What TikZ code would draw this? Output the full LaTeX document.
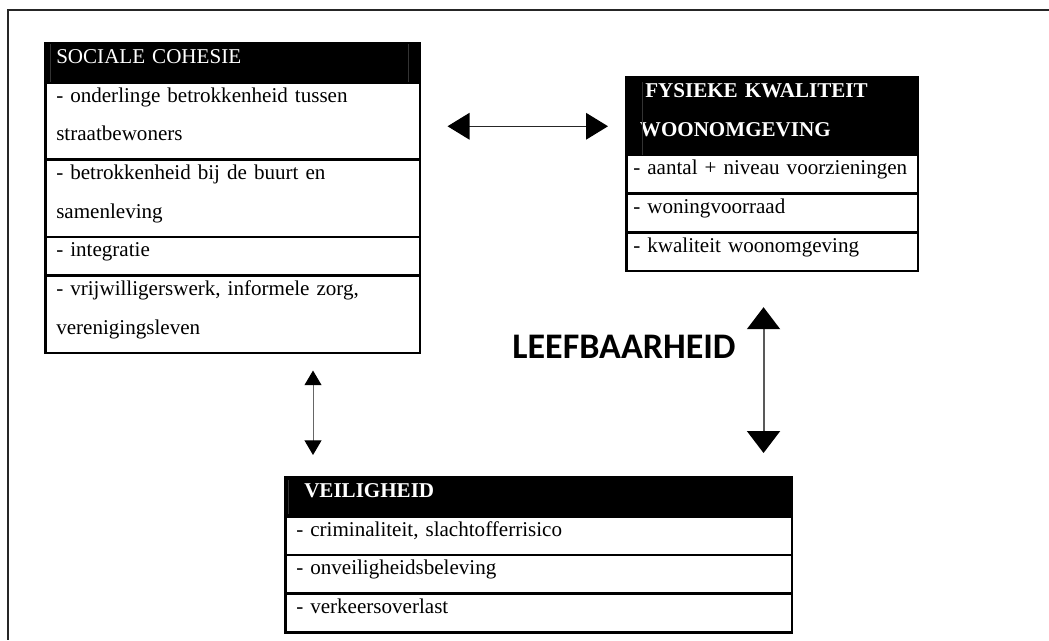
\documentclass[tikz,border=0pt]{standalone}
\usepackage{fontspec}
\setmainfont{Liberation Serif}
\newfontfamily\calibri{Carlito}
\usetikzlibrary{matrix,arrows.meta,calc}

\newcommand{\regel}{\rule[-14pt]{0pt}{29pt}}

\tikzset{
  cel/.style={draw, line width=2pt, inner xsep=8pt, inner ysep=0pt, align=left,
    font=\fontsize{15.8pt}{29pt}\selectfont,
    execute at begin node=\regel, execute at end node=\regel},
  kop/.style={fill=black, text=white},
  tabel/.style={matrix of nodes, inner sep=0pt, row sep=-2pt, anchor=north west,
    nodes={cel, text width=#1}},
  naad/.style={draw=black!80, line width=0.6pt},
  pijl/.style 2 args={<->, >={Triangle[width=#1, length=#2, color=black]}},
  titel/.style={font=\calibri\bfseries\fontsize{27pt}{30pt}\selectfont, inner sep=0pt}
}

\begin{document}
\begin{tikzpicture}[x=0.75pt, y=-0.75pt]
  \useasboundingbox (0,0) rectangle (1049,640);
  \draw[line width=1.5pt, black!85] (1049,10) -- (8,10) -- (8,640);

  \matrix (soc) [tabel=264.75pt] at (44,42) {
    |[kop]| SOCIALE COHESIE \\
    - onderlinge betrokkenheid tussen\newline straatbewoners \\
    - betrokkenheid bij de buurt en\newline samenleving \\
    - integratie \\
    - vrijwilligerswerk, informele zorg,\newline verenigingsleven \\
  };

  \matrix (fys) [tabel=208.5pt, nodes={inner xsep=5pt}] at (625,76) {
    |[kop]| \textbf{\hspace*{9pt}FYSIEKE KWALITEIT\newline\hspace*{5pt}WOONOMGEVING} \\
    - aantal + niveau voorzieningen \\
    - woningvoorraad \\
    - kwaliteit woonomgeving \\
  };

  \matrix (veil) [tabel=363.75pt] at (284,476) {
    |[kop]| \textbf{\hspace*{6pt}VEILIGHEID} \\
    - criminaliteit, slachtofferrisico \\
    - onveiligheidsbeleving \\
    - verkeersoverlast \\
  };

  % naden in de koppen
  \draw[naad] ($(soc-1-1.north west)+(4.5pt,-1.5pt)$) -- ($(soc-1-1.south west)+(4.5pt,1pt)$);
  \draw[naad] ($(soc-1-1.north east)+(-9.75pt,-1.5pt)$) -- ($(soc-1-1.south east)+(-9.75pt,1pt)$);
  \draw[naad] ($(fys-1-1.north west)+(12.75pt,-4.5pt)$) -- ($(fys-1-1.south west)+(12.75pt,1pt)$);
  \draw[naad] ($(veil-1-1.north west)+(3pt,-3pt)$) -- ($(veil-1-1.south west)+(3pt,3pt)$);

  \node[titel] (leef) at (624,347) {LEEFBAARHEID};

  \draw[pijl={20pt}{16.5pt}, draw=black!85, line width=0.9pt]
    ($(soc.east |- soc-2-1)+(19.5pt,-4pt)$) -- ($(fys.west |- soc-2-1)+(-12.75pt,-4pt)$);
  \draw[pijl={12.75pt}{11pt}, draw=black!60, line width=0.75pt]
    ($(veil.north west |- soc.south)+(21.75pt,-12pt)$) -- ($(veil.north west)+(21.75pt,15.75pt)$);
  \draw[pijl={24.75pt}{16.5pt}, draw=black!65, line width=1.5pt]
    ($(veil.north east |- fys.south)+(-22.5pt,-26pt)$) -- ($(veil.north east)+(-22.5pt,17.25pt)$);
\end{tikzpicture}
\end{document}
